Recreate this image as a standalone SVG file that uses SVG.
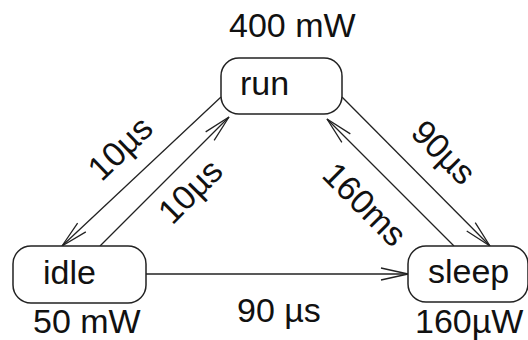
<svg xmlns="http://www.w3.org/2000/svg" width="528" height="340" viewBox="0 0 528 340">
  <style>
    .node rect { fill: #ffffff; stroke: #222222; stroke-width: 1.5; }
    text { font-family: "Liberation Sans", Arial, Helvetica, sans-serif; font-size: 34px; fill: #111111; }
    .edge { fill: none; stroke: #222222; stroke-width: 1.3; marker-end: url(#arrow); }
    .mid { text-anchor: middle; }
  </style>
  <defs>
    <marker id="arrow" markerUnits="userSpaceOnUse" markerWidth="30" markerHeight="16" viewBox="-28 -8 30 16" refX="0" refY="0" orient="auto">
      <path d="M-27,-6 L0,0 L-27,6" fill="none" stroke="#222222" stroke-width="1.3"/>
    </marker>
  </defs>

  <!-- transitions -->
  <g id="connectors">
    <line class="edge" x1="221" y1="97" x2="62" y2="246"/>
    <line class="edge" x1="100" y1="246" x2="229" y2="117"/>
    <line class="edge" x1="342" y1="97" x2="490" y2="246"/>
    <line class="edge" x1="454" y1="246" x2="327" y2="119"/>
    <line class="edge" x1="146" y1="274" x2="408" y2="274"/>
    <g transform="translate(120,148) rotate(-44)"><text class="mid" x="0" y="12">10µs</text></g>
    <g transform="translate(190,191) rotate(-45)"><text class="mid" x="0" y="12">10µs</text></g>
    <g transform="translate(444,152) rotate(45)"><text class="mid" x="0" y="12">90µs</text></g>
    <g transform="translate(365,204) rotate(45)"><text class="mid" x="0" y="12">160ms</text></g>
    <text x="237" y="322">90 µs</text>
  </g>

  <!-- states -->
  <g id="run" class="node">
    <rect x="221" y="58" width="121" height="56" rx="18" ry="18"/>
    <text x="240" y="95">run</text>
    <text x="229" y="37">400 mW</text>
  </g>
  <g id="idle" class="node">
    <rect x="13" y="246" width="133" height="57" rx="18" ry="18"/>
    <text x="43" y="284">idle</text>
    <text x="33" y="333">50 mW</text>
  </g>
  <g id="sleep" class="node">
    <rect x="408" y="246" width="120" height="56" rx="18" ry="18"/>
    <text x="428" y="283">sleep</text>
    <text x="415" y="333">160µW</text>
  </g>
</svg>
